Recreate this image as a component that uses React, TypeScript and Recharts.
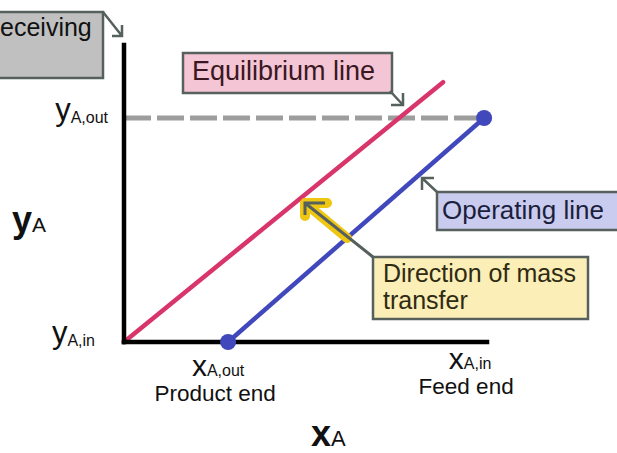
import React from "react";
import { ComposedChart, Line, XAxis, YAxis } from "recharts";

// conceptual coordinates (x: 0..10.08, y: 0..13.26)
const equilibriumX = [0, 8.86];
const equilibriumY = [0, 11.6];
const operatingX = [2.89, 10];
const operatingY = [0, 10];
const outletX = [0, 10];
const outletY = [10, 10];

const xTicks = [2.89, 10];
const xTickSubs = ["A,out", "A,in"];
const xTickNotes = ["Product end", "Feed end"];
const yTicks = [0, 10];
const yTickSubs = ["A,in", "A,out"];

const FONT = '"Liberation Sans", Arial, Helvetica, sans-serif';
const EDGE = "#56605d";

const toPoints = (xs: number[], ys: number[]) =>
  xs.map((x, i) => ({ x, y: ys[i] }));

function XTick(props: any) {
  const { x, y, payload } = props;
  const i = xTicks.indexOf(payload.value);
  const lift = i === 1 ? 7 : 0;
  const dx = i === 1 ? -14 : -10;
  const dxNote = i === 1 ? -18 : -13;
  return (
    <g fontFamily={FONT} fill="#111">
      <text x={x + dx} y={y + 34 - lift} textAnchor="middle">
        <tspan fontSize={30}>x</tspan>
        <tspan fontSize={16}>{xTickSubs[i]}</tspan>
      </text>
      <text x={x + dxNote} y={y + 59 - lift} textAnchor="middle" fontSize={22.5}>
        {xTickNotes[i]}
      </text>
    </g>
  );
}

function YTick(props: any) {
  const { x, y, payload } = props;
  const i = yTicks.indexOf(payload.value);
  const dx = i === 0 ? -29 : -16;
  const dy = i === 0 ? 1 : 2;
  return (
    <text x={x + dx} y={y + dy} textAnchor="end" fontFamily={FONT} fill="#111">
      <tspan fontSize={31}>y</tspan>
      <tspan fontSize={16} dy={3}>
        {yTickSubs[i]}
      </tspan>
    </text>
  );
}

/** Callout boxes, leaders and axis titles drawn over the chart. */
function Annotations() {
  return (
    <svg
      width={617}
      height={453}
      style={{ position: "absolute", left: 0, top: 0, pointerEvents: "none" }}
      fontFamily={FONT}
    >
      {/* receiving box, cut at the left edge */}
      <rect x={-10} y={12} width={113} height={66} fill="#c0c0c0" stroke={EDGE} strokeWidth={2.5} />
      <text x={-18} y={36} fontSize={25} fill="#111">Receiving</text>
      <path d="M103 12 L122 36 M122 25 L122 36 L112 36" fill="none" stroke={EDGE} strokeWidth={2.5} />

      {/* equilibrium */}
      <rect x={183} y={53} width={209} height={40} fill="#f4c5d4" stroke={EDGE} strokeWidth={2.5} />
      <text x={192} y={80} fontSize={27} fill="#3a1822">Equilibrium line</text>
      <path d="M390 91 L403 105 M403 93 L403 105 L391 105" fill="none" stroke={EDGE} strokeWidth={2.5} />

      {/* operating */}
      <rect x={437} y={192} width={182} height={38} fill="#c9ccee" stroke={EDGE} strokeWidth={2.5} />
      <text x={442} y={219} fontSize={26} fill="#1b1e3c">Operating line</text>
      <path d="M437 192 L422 178 M422 190 L422 178 L434 178" fill="none" stroke={EDGE} strokeWidth={2.5} />

      {/* direction of mass transfer */}
      <path
        d="M347 238 L305 203 M327 203 L305 203 L305 216"
        fill="none"
        stroke="#efc611"
        strokeWidth={10}
        strokeLinecap="round"
        strokeLinejoin="round"
      />
      <path
        d="M373 257 L305 203 M325 203 L305 203 L305 215"
        fill="none"
        stroke={EDGE}
        strokeWidth={3}
      />
      <rect x={373} y={257} width={215} height={62} fill="#fbeeb7" stroke={EDGE} strokeWidth={2.5} />
      <text x={383} y={282} fontSize={25} fill="#2f2a12">Direction of mass</text>
      <text x={383} y={309} fontSize={25} fill="#2f2a12">transfer</text>

      {/* axis titles */}
      <text x={12} y={232} fill="#111">
        <tspan fontSize={36} fontWeight="bold">y</tspan>
        <tspan fontSize={21}>A</tspan>
      </text>
      <text x={311} y={446} fill="#111">
        <tspan fontSize={36} fontWeight="bold">x</tspan>
        <tspan fontSize={22}>A</tspan>
      </text>
    </svg>
  );
}

export default function App() {
  return (
    <div
      style={{
        position: "absolute",
        left: 0,
        top: 0,
        width: 617,
        height: 453,
        background: "#fff",
      }}
    >
      <ComposedChart
        width={617}
        height={453}
        margin={{ top: 45, right: 130, bottom: 110, left: 123 }}
      >
        <XAxis
          type="number"
          dataKey="x"
          domain={[0, 10.08]}
          ticks={xTicks}
          interval={0}
          height={1}
          tickLine={false}
          tickSize={0}
          tickMargin={0}
          axisLine={{ stroke: "#000", strokeWidth: 4.5, strokeLinecap: "square" }}
          tick={<XTick />}
        />
        <YAxis
          type="number"
          dataKey="y"
          domain={[0, 13.26]}
          ticks={yTicks}
          interval={0}
          width={1}
          tickLine={false}
          tickSize={0}
          tickMargin={0}
          axisLine={{ stroke: "#000", strokeWidth: 4.5, strokeLinecap: "square" }}
          tick={<YTick />}
        />
        <Line
          data={toPoints(outletX, outletY)}
          dataKey="y"
          stroke="#9d9d9d"
          strokeWidth={5}
          strokeDasharray="27 6"
          dot={false}
          isAnimationActive={false}
        />
        <Line
          data={toPoints(equilibriumX, equilibriumY)}
          dataKey="y"
          stroke="#d8356b"
          strokeWidth={4.5}
          strokeLinecap="round"
          dot={false}
          isAnimationActive={false}
        />
        <Line
          data={toPoints(operatingX, operatingY)}
          dataKey="y"
          stroke="#4148bb"
          strokeWidth={4.5}
          dot={{ r: 8, fill: "#4148bb", stroke: "none" }}
          isAnimationActive={false}
        />
      </ComposedChart>
      <Annotations />
    </div>
  );
}
